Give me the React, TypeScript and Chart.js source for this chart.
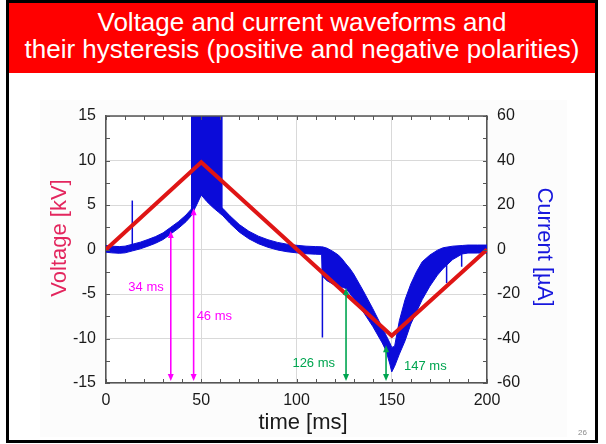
import React, { useEffect, useRef } from "react";
import { Chart, registerables } from "chart.js";

Chart.register(...registerables);

// Axis ticks
const timeTicks = [0, 50, 100, 150, 200];
const voltageTicks = [-15, -10, -5, 0, 5, 10, 15];
const currentTicks = [-60, -40, -20, 0, 20, 40, 60];

// Applied voltage [kV]
const voltageTime = [0, 50, 150, 200];
const voltageKV = [0, 9.8, -9.7, 0];

// Current trace envelope [µA]: upper and lower edge of the noisy band
const envTime = [
  0, 3, 7, 10, 14, 18, 22, 26, 30, 34, 38, 42, 44.6, 47, 50, 53, 56, 59, 61.3,
  65, 70, 75, 80, 85, 90, 95, 100, 105, 110, 113.2, 113.6, 116, 119, 122, 124,
  126, 128, 130, 135, 140, 145, 147, 149, 150, 151.5, 154, 157, 160, 163, 166,
  170, 174, 177, 182, 187, 190, 195, 200,
];
const currentUpper = [
  1.8, 1.5, 1.3, 1.5, 2.4, 3.3, 4.5, 5.8, 7.5, 10, 12.5, 15.5, 18, 22, 27.5, 24.5, 22, 19.8, 18.5,
  15.2, 11.2, 8.2, 6, 4.4, 3.2, 2.4, 1.9, 1.5, 1.3, 1.2, 1.2, 0.6, -0.8, -2.5, -4.3,
  -6.5, -8.5, -11, -18.5, -26.5, -35, -38.5, -42, -44, -43.5, -32, -22.5, -15.5, -10, -5.5,
  -2.5, -0.3, 0.8, 1.5, 1.8, 2, 2, 2,
];
const currentLower = [
  -1.2, -1.5, -1.7, -1.5, -0.6, 0.3, 1.5, 2.8, 4.5, 7, 9.5, 12.5, 15, 19, 24.5, 21.5, 19, 16.8, 15.2,
  11.8, 7.8, 4.8, 2.6, 1, -0.2, -1, -1.5, -1.9, -2.1, -2.2, -12, -14, -15.5, -16.5, -17,
  -17.5, -19.8, -22, -28, -34.5, -42, -45.5, -51.5, -55, -52.5, -47, -41, -33.5, -28, -22.5,
  -16.5, -11.5, -8.5, -4.5, -2, -1.6, -1.6, -1.6,
];

// Discharge burst around the voltage peak: lower edge of the saturated region [µA]
const burstTime = [44.6, 47, 50, 53, 56, 59, 61.3];
const burstLower = [17, 20.3, 25.5, 22.5, 20, 17.8, 16.3];

// Isolated current spikes [ms] and their extent [µA]
const spikeTime = [13.8, 113.6, 178.8, 186.7];
const spikeBase = [0.5, -1, 0.5, 0.5];
const spikeTip = [22, -39.5, -15, -7.7];

// Onset markers: time [ms] and current level they point to [µA]
const markerTime = [34, 46, 126, 147];
const markerLevel = [8.3, 18.5, -17.3, -43];
const markerColor = ["#ff00ff", "#ff00ff", "#00a550", "#00a550"];
// label placement: side of the arrow, horizontal gap (px), vertical centre (px)
const markerLabelSide = ["left", "right", "left", "right"];
const markerLabelGap = [7, 3, 11, 18];
const markerLabelY = [287, 316, 363, 366];

const FONT = "'Liberation Sans', Arial, Helvetica, sans-serif";
const BLUE = "#0b0bd9";
const RED = "#df1515";
const AXIS = "#555555";

const pts = (xs: number[], ys: number[]) => xs.map((x, i) => ({ x, y: ys[i] }));

const decorations = {
  id: "decorations",
  beforeDraw(chart: any) {
    const { ctx, chartArea: a } = chart;
    ctx.save();
    ctx.fillStyle = "#ffffff";
    ctx.fillRect(a.left, a.top, a.right - a.left, a.bottom - a.top);
    ctx.restore();
  },
  afterDatasetsDraw(chart: any) {
    const { ctx, chartArea: a, scales } = chart;
    const xs = scales.x;
    const yl = scales.y;
    const yr = scales.y1;
    ctx.save();
    // top border
    ctx.strokeStyle = AXIS;
    ctx.lineWidth = 1.5;
    ctx.beginPath();
    ctx.moveTo(a.left, a.top);
    ctx.lineTo(a.right, a.top);
    ctx.stroke();
    // inward minor ticks
    ctx.lineWidth = 1;
    ctx.beginPath();
    for (let t = 0; t <= 200; t += 10) {
      const px = Math.round(xs.getPixelForValue(t)) + 0.5;
      ctx.moveTo(px, a.bottom);
      ctx.lineTo(px, a.bottom - 4);
      ctx.moveTo(px, a.top);
      ctx.lineTo(px, a.top + 4);
    }
    for (let v = -15; v <= 15; v += 2.5) {
      const py = Math.round(yl.getPixelForValue(v)) + 0.5;
      ctx.moveTo(a.left, py);
      ctx.lineTo(a.left + 4, py);
    }
    for (let v = -60; v <= 60; v += 10) {
      const py = Math.round(yr.getPixelForValue(v)) + 0.5;
      ctx.moveTo(a.right, py);
      ctx.lineTo(a.right - 4, py);
    }
    ctx.stroke();

    // onset arrows
    markerTime.forEach((t, i) => {
      const x = xs.getPixelForValue(t);
      const yTop = yr.getPixelForValue(markerLevel[i]);
      const yBot = a.bottom - 2;
      const c = markerColor[i];
      const head = 7;
      const half = 3;
      ctx.strokeStyle = c;
      ctx.fillStyle = c;
      ctx.lineWidth = 1.6;
      ctx.beginPath();
      ctx.moveTo(x, yTop + head - 1);
      ctx.lineTo(x, yBot - head + 1);
      ctx.stroke();
      ctx.beginPath();
      ctx.moveTo(x, yTop);
      ctx.lineTo(x - half, yTop + head);
      ctx.lineTo(x + half, yTop + head);
      ctx.closePath();
      ctx.fill();
      ctx.beginPath();
      ctx.moveTo(x, yBot);
      ctx.lineTo(x - half, yBot - head);
      ctx.lineTo(x + half, yBot - head);
      ctx.closePath();
      ctx.fill();
      ctx.font = `13px ${FONT}`;
      ctx.textBaseline = "middle";
      const left = markerLabelSide[i] === "left";
      ctx.textAlign = left ? "right" : "left";
      const lx = left ? x - markerLabelGap[i] : x + markerLabelGap[i];
      ctx.fillText(`${t} ms`, lx, markerLabelY[i]);
    });
    ctx.restore();
  },
  afterDraw(chart: any) {
    const { ctx } = chart;
    ctx.save();
    ctx.font = `22px ${FONT}`;
    ctx.textAlign = "center";
    ctx.textBaseline = "alphabetic";
    // left axis title
    ctx.fillStyle = "#e3265e";
    ctx.translate(65.5, 238);
    ctx.rotate(-Math.PI / 2);
    ctx.fillText("Voltage [kV]", 0, 0);
    ctx.setTransform(1, 0, 0, 1, 0, 0);
    // right axis title
    ctx.fillStyle = "#1717dd";
    ctx.translate(537.5, 247);
    ctx.rotate(Math.PI / 2);
    ctx.fillText("Current [µA]", 0, 0);
    ctx.setTransform(1, 0, 0, 1, 0, 0);
    // bottom axis title
    ctx.fillStyle = "#1a1a1a";
    ctx.fillText("time [ms]", 303, 429);
    ctx.restore();
  },
};

export default function App() {
  const canvasRef = useRef<HTMLCanvasElement>(null);

  useEffect(() => {
    const canvas = canvasRef.current;
    if (!canvas) return;

    const spikeSets = spikeTime.map((t, i) => ({
      label: `spike${i}`,
      data: [
        { x: t, y: spikeBase[i] },
        { x: t, y: spikeTip[i] },
      ],
      yAxisID: "y1",
      borderColor: BLUE,
      borderWidth: 1.5,
      pointRadius: 0,
      fill: false,
    }));

    const tickFont = { family: FONT, size: 16 };

    const chart = new Chart(canvas, {
      type: "line",
      data: {
        datasets: [
          {
            label: "Voltage",
            data: pts(voltageTime, voltageKV),
            yAxisID: "y",
            borderColor: RED,
            borderWidth: 4,
            pointRadius: 0,
            fill: false,
            borderJoinStyle: "miter",
          },
          {
            label: "Burst",
            data: pts(burstTime, burstLower),
            yAxisID: "y1",
            borderColor: BLUE,
            backgroundColor: BLUE,
            borderWidth: 1,
            pointRadius: 0,
            fill: "end",
          },
          {
            label: "Current upper",
            data: pts(envTime, currentUpper),
            yAxisID: "y1",
            borderColor: BLUE,
            backgroundColor: BLUE,
            borderWidth: 1,
            pointRadius: 0,
            fill: "+1",
          },
          {
            label: "Current lower",
            data: pts(envTime, currentLower),
            yAxisID: "y1",
            borderColor: BLUE,
            borderWidth: 1,
            pointRadius: 0,
            fill: false,
          },
          ...spikeSets,
        ] as any,
      },
      options: {
        animation: false,
        responsive: false,
        devicePixelRatio: 1,
        layout: { padding: { left: 0, right: 0, top: 116, bottom: 0 } },
        elements: { line: { tension: 0 }, point: { radius: 0 } },
        plugins: {
          legend: { display: false },
          tooltip: { enabled: false },
        },
        scales: {
          x: {
            type: "linear",
            position: "bottom",
            min: 0,
            max: 200,
            afterBuildTicks: (s: any) => {
              s.ticks = timeTicks.map((v) => ({ value: v }));
            },
            afterFit: (s: any) => {
              s.height = 61;
            },
            ticks: { font: tickFont, color: "#1a1a1a", padding: 8, maxRotation: 0 },
            grid: { color: "#d9d9d9", lineWidth: 1, drawTicks: false },
            border: { display: true, color: AXIS, width: 1.5 },
          },
          y: {
            type: "linear",
            position: "left",
            min: -15,
            max: 15,
            afterBuildTicks: (s: any) => {
              s.ticks = voltageTicks.map((v) => ({ value: v }));
            },
            afterFit: (s: any) => {
              s.width = 106;
            },
            ticks: { font: tickFont, color: "#1a1a1a", padding: 10 },
            grid: { color: "#d9d9d9", lineWidth: 1, drawTicks: false },
            border: { display: true, color: AXIS, width: 1.5 },
          },
          y1: {
            type: "linear",
            position: "right",
            min: -60,
            max: 60,
            afterBuildTicks: (s: any) => {
              s.ticks = currentTicks.map((v) => ({ value: v }));
            },
            afterFit: (s: any) => {
              s.width = 119;
            },
            ticks: { font: tickFont, color: "#1a1a1a", padding: 10 },
            grid: { display: false, drawTicks: false },
            border: { display: true, color: AXIS, width: 1.5 },
          },
        },
      } as any,
      plugins: [decorations],
    });

    return () => chart.destroy();
  }, []);

  return (
    <div
      style={{
        position: "fixed",
        left: 0,
        top: 0,
        width: 606,
        height: 444,
        background: "#ffffff",
        overflow: "hidden",
      }}
    >
      <div
        style={{
          position: "absolute",
          left: 40,
          top: 100,
          width: 527,
          height: 337,
          background: "#fcfcfc",
        }}
      />
      <div
        style={{
          position: "absolute",
          left: 6,
          top: 0,
          width: 592,
          height: 443,
          boxSizing: "border-box",
          border: "3px solid #000",
        }}
      />
      <div
        style={{
          position: "absolute",
          left: 9,
          top: 3,
          width: 586,
          height: 70,
          background: "#ff0000",
        }}
      />
      <div
        style={{
          position: "absolute",
          left: 9,
          width: 586,
          top: 8.5,
          color: "#ffffff",
          fontFamily: FONT,
          fontSize: 26,
          lineHeight: "27px",
          textAlign: "center",
          whiteSpace: "nowrap",
        }}
      >
        <div>Voltage and current waveforms and</div>
        <div>their hysteresis (positive and negative polarities)</div>
      </div>
      <canvas
        ref={canvasRef}
        width={606}
        height={444}
        style={{ position: "absolute", left: 0, top: 0, width: 606, height: 444 }}
      />
      <div
        style={{
          position: "absolute",
          right: 19,
          top: 428,
          fontFamily: FONT,
          fontSize: 8,
          lineHeight: "9px",
          color: "#8c8c8c",
        }}
      >
        26
      </div>
    </div>
  );
}
